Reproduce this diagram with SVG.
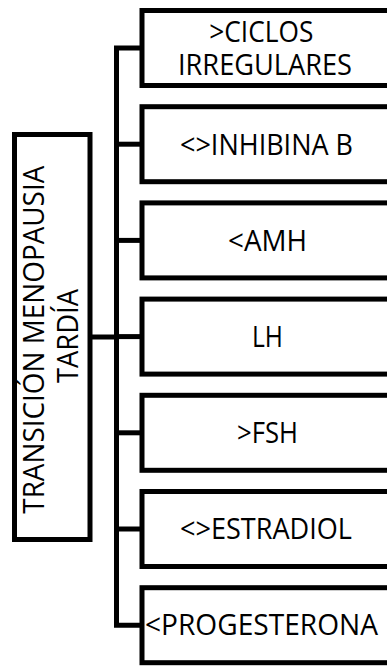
<svg xmlns="http://www.w3.org/2000/svg" width="387" height="666" viewBox="0 0 387 666">
  <style>
    .box { fill: #ffffff; stroke: #000000; stroke-width: 5; }
    .wire { fill: none; stroke: #000000; stroke-width: 5; stroke-linejoin: miter; stroke-linecap: butt; }
    .lbl { font-family: "Open Sans", "Liberation Sans", sans-serif; font-size: 28.5px; fill: #000000; text-anchor: middle; }
  </style>
  <rect width="387" height="666" fill="#ffffff"/>

  <!-- connectors: trunk with branches to each box -->
  <g id="connectors">
    <path class="wire" d="M142,48 H116.5 V625.2 H142"/>
    <path class="wire" d="M116.5,144.2 H142"/>
    <path class="wire" d="M116.5,240.4 H142"/>
    <path class="wire" d="M116.5,336.6 H142"/>
    <path class="wire" d="M116.5,432.8 H142"/>
    <path class="wire" d="M116.5,529 H142"/>
    <path class="wire" d="M90,337 H116.5"/>
  </g>

  <!-- root node, vertical two-line label -->
  <g id="root">
    <rect class="box" x="14.5" y="134.5" width="75.5" height="405"/>
    <g transform="translate(0,336) rotate(-90)">
      <text class="lbl">
        <tspan x="0" y="44" textLength="348" lengthAdjust="spacingAndGlyphs">TRANSICIÓN MENOPAUSIA</tspan>
        <tspan x="0" y="78" textLength="94" lengthAdjust="spacingAndGlyphs">TARDÍA</tspan>
      </text>
    </g>
  </g>

  <g id="ciclos">
    <rect class="box" x="142" y="10.5" width="248" height="75"/>
    <text class="lbl">
      <tspan x="265" y="42" textLength="104" lengthAdjust="spacingAndGlyphs">&gt;CICLOS</tspan>
      <tspan x="265" y="75" textLength="174" lengthAdjust="spacingAndGlyphs">IRREGULARES</tspan>
    </text>
  </g>

  <g id="inhibina">
    <rect class="box" x="142" y="106.7" width="248" height="75"/>
    <text class="lbl" x="266.5" y="155" textLength="173" lengthAdjust="spacingAndGlyphs">&lt;&gt;INHIBINA B</text>
  </g>

  <g id="amh">
    <rect class="box" x="142" y="202.9" width="248" height="75"/>
    <text class="lbl" x="267.5" y="251" textLength="79" lengthAdjust="spacingAndGlyphs">&lt;AMH</text>
  </g>

  <g id="lh">
    <rect class="box" x="142" y="299.1" width="248" height="75"/>
    <text class="lbl" x="267.5" y="347" textLength="31" lengthAdjust="spacingAndGlyphs">LH</text>
  </g>

  <g id="fsh">
    <rect class="box" x="142" y="395.3" width="248" height="75"/>
    <text class="lbl" x="267.5" y="443" textLength="61" lengthAdjust="spacingAndGlyphs">&gt;FSH</text>
  </g>

  <g id="estradiol">
    <rect class="box" x="142" y="491.5" width="248" height="75"/>
    <text class="lbl" x="266" y="539" textLength="172" lengthAdjust="spacingAndGlyphs">&lt;&gt;ESTRADIOL</text>
  </g>

  <g id="progesterona">
    <rect class="box" x="142" y="587.7" width="248" height="75"/>
    <text class="lbl" x="261.5" y="635" textLength="233" lengthAdjust="spacingAndGlyphs">&lt;PROGESTERONA</text>
  </g>
</svg>
